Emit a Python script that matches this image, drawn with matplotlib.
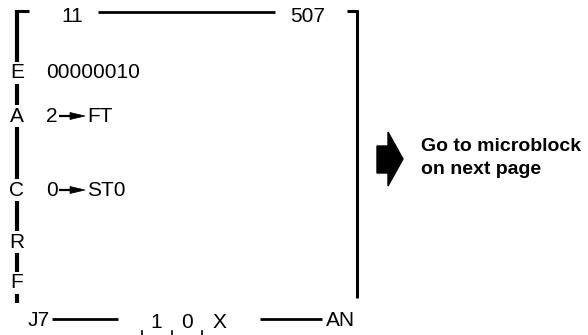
import matplotlib.pyplot as plt
from matplotlib.patches import Polygon

# texts of the diagram
side_letters = ["E", "A", "C", "R", "F"]
first_line = "00000010"
assign_from = ["2", "0"]
assign_to = ["FT", "ST0"]
top_left = "11"
top_right = "507"
bottom_left = "J7"
bottom_bits = ["1", "0", "X"]
bottom_right = "AN"
note = "Go to microblock\non next page"

plt.rcParams['font.family'] = ['Liberation Sans', 'DejaVu Sans']

fig = plt.figure(figsize=(5.88, 3.35), dpi=100)
ax = fig.add_axes([0, 0, 1, 1])
ax.set_xlim(0, 588)
ax.set_ylim(335, 0)
ax.axis("off")

FS = 15

# left bar with letters cut into it
ax.plot([17, 17], [10, 303], color="black", lw=3, solid_capstyle="butt")
ax.plot([16, 29], [11, 11], color="black", lw=2.2, solid_capstyle="butt")
for letter, y in zip(side_letters, [73, 116, 190, 242, 283]):
    ax.text(17, y, letter, fontsize=FS, ha="center", va="center",
            bbox=dict(facecolor="white", edgecolor="none", pad=1.2))

# top line
ax.text(72, 17, top_left, fontsize=FS, ha="center", va="center")
ax.plot([98, 275], [12, 12], color="black", lw=2, solid_capstyle="butt")
ax.text(308, 16, top_right, fontsize=FS, ha="center", va="center")

# right bracket
ax.plot([347, 358], [11, 11], color="black", lw=2.2, solid_capstyle="butt")
ax.plot([357, 357], [10, 298], color="black", lw=2.2, solid_capstyle="butt")

# body text
ax.text(46, 73, first_line, fontsize=FS, ha="left", va="center")
for src, dst, y in zip(assign_from, assign_to, [116, 190]):
    ax.text(46, y, src, fontsize=FS, ha="left", va="center")
    ax.plot([59, 72], [y, y], color="black", lw=1.6, solid_capstyle="butt")
    ax.add_patch(Polygon([(70, y - 3.5), (85, y), (70, y + 3.5)], closed=True,
                         facecolor="black", edgecolor="black", lw=0.5))
    ax.text(87, y, dst, fontsize=FS, ha="left", va="center")

# bottom row
ax.text(28, 320, bottom_left, fontsize=FS, ha="left", va="center")
ax.plot([52, 118], [319, 319], color="black", lw=2, solid_capstyle="butt")
for bit, x in zip(bottom_bits, [156, 187, 219]):
    ax.text(x, 322, bit, fontsize=FS, ha="center", va="center")
for x in [142, 172, 202]:
    ax.plot([x, x], [331, 335], color="black", lw=1.2)
ax.plot([260, 322], [319, 319], color="black", lw=2, solid_capstyle="butt")
ax.text(326, 321, bottom_right, fontsize=FS, ha="left", va="center")

# big arrow to the note
arrow = Polygon([(377, 146), (388, 146), (388, 132), (403, 159),
                 (388, 186), (388, 173), (377, 173)],
                closed=True, facecolor="black", edgecolor="black")
ax.add_patch(arrow)
ax.text(421, 158, note, fontsize=14, fontweight="bold", ha="left",
        va="center", linespacing=1.4)

fig.savefig("out.png", dpi=100)
